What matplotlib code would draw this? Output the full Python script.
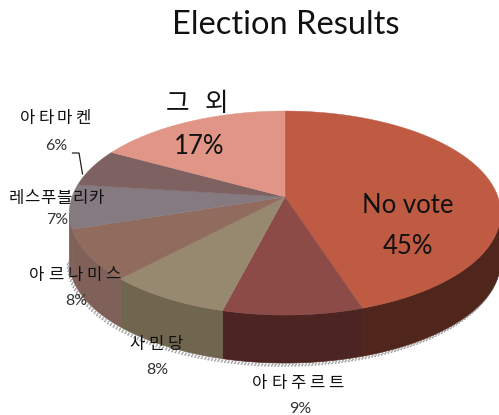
import numpy as np
import matplotlib
matplotlib.use('Agg')
import matplotlib.pyplot as plt
from matplotlib.patches import Polygon

plt.rcParams['font.family'] = ['Noto Sans CJK KR', 'DejaVu Sans']

# clockwise from twelve o'clock
parties = ['No vote', '아타주르트', '사민당', '아르나미스', '레스푸블리카', '아타마켄', '그 외']
shares = [45, 9, 8, 8, 7, 6, 17]
top_colors = ['#C05B43', '#8D4B47', '#978870', '#906B5E', '#857A80', '#7E6161', '#E09586']
side_colors = ['#50251C', '#4C2523', '#70654F', '#80615A', '#80615A', '#7E6161', '#E09586']

# pie geometry in pixels
cx, cy = 285, 197
rx, ry = 213, 99.5
persp = 0.157
depth = 48


def project(theta):
    u = np.sin(theta)
    v = -np.cos(theta)
    s = 1 / (1 - persp * v)
    return cx + rx * u * s, cy + ry * v * s


def arc(a0, a1, n=60):
    t = np.linspace(a0, a1, n)
    return project(t)


def spaced_text(ax, x, y, s, step, size):
    # korean labels are set with wide tracking, one glyph at a time
    x0 = x - step * (len(s) - 1) / 2
    for k, ch in enumerate(s):
        ax.text(x0 + k * step, y, ch, fontsize=size, fontweight='light', ha='center', va='center',
                color='#111111', zorder=5)


def sans_text(ax, x, y, s, size, color='#111111'):
    ax.text(x, y, s, fontsize=size, family='Lato', ha='center', va='center',
            color=color, zorder=5)


fig = plt.figure(figsize=(4.99, 4.15), dpi=100)
ax = fig.add_axes([0, 0, 1, 1])
ax.set_xlim(0, 499)
ax.set_ylim(415, 0)
ax.axis('off')

edges = np.cumsum([0] + shares) / 100 * 2 * np.pi

# right and left extremes of the rim, the wall is visible between them
t_right = np.arccos(-persp)
t_left = 2 * np.pi - t_right

# stippled shadow under the wall
x, y = arc(t_right - 0.2, t_left + 0.02, 160)
for off in (1.5, 3):
    ax.plot(x - off * 0.6, y + depth + off, color='#9a9a9a', lw=1.1, ls=(0, (1, 1.2)), zorder=1)

# outer wall
for i in range(len(shares)):
    a0 = max(edges[i], t_right)
    a1 = min(edges[i + 1], t_left)
    if a1 <= a0:
        continue
    x, y = arc(a0, a1)
    pts = np.r_[np.c_[x, y], np.c_[x[::-1], y[::-1] + depth]]
    ax.add_patch(Polygon(pts, closed=True, facecolor=side_colors[i], edgecolor=side_colors[i],
                         lw=0.5, zorder=2))

# top face
for i in range(len(shares)):
    x, y = arc(edges[i], edges[i + 1])
    pts = np.r_[[[cx, cy]], np.c_[x, y]]
    ax.add_patch(Polygon(pts, closed=True, facecolor=top_colors[i], edgecolor=top_colors[i],
                         lw=0.3, zorder=3))

ax.plot([72.5, 79, 82.5], [153, 153, 174], color='#222222', lw=0.9, zorder=4)

sans_text(ax, 286, 25, 'Election Results', 23.5)
sans_text(ax, 408, 205, parties[0], 18.5)
sans_text(ax, 408, 246, f'{shares[0]}%', 18.5)
spaced_text(ax, 197, 104, parties[6], 19, 18.5)
sans_text(ax, 199, 146, f'{shares[6]}%', 18.5)

# small outside labels: name centre, tracking, percent centre
small_labels = [
    (parties[5], 55, 118, 18.5, f'{shares[5]}%', 56, 146),
    (parties[4], 56, 198, 16, f'{shares[4]}%', 57, 220),
    (parties[3], 75, 275, 19, f'{shares[3]}%', 76, 301),
    (parties[2], 156, 344, 19, f'{shares[2]}%', 157, 370),
    (parties[1], 298, 383, 19, f'{shares[1]}%', 300, 409),
]
for name, nx, ny, step, pct, px, py in small_labels:
    spaced_text(ax, nx, ny, name, step, 12)
    sans_text(ax, px, py, pct, 11.5, color='#333333')

fig.savefig('out.png', dpi=100)
